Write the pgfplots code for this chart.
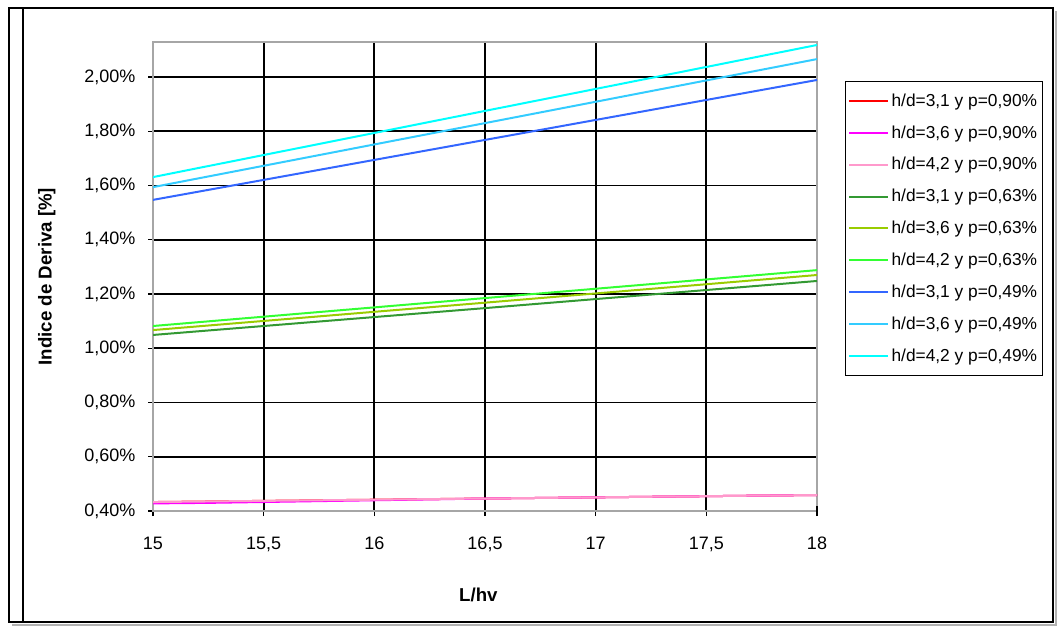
\documentclass[border=0pt]{standalone}
\usepackage{pgfplots}
\pgfplotsset{compat=1.18}
\usepackage{fontspec}
\setmainfont{Liberation Sans}
\definecolor{cRed}{HTML}{FF0000}
\definecolor{cMag}{HTML}{FF00FF}
\definecolor{cPink}{HTML}{FF99CC}
\definecolor{cDkG}{HTML}{339933}
\definecolor{cYG}{HTML}{99CC00}
\definecolor{cG}{HTML}{33FF33}
\definecolor{cBlue}{HTML}{3366FF}
\definecolor{cLB}{HTML}{33CCFF}
\definecolor{cCy}{HTML}{00FFFF}
\begin{document}
\begin{tikzpicture}[x=0.75pt,y=0.75pt]
\useasboundingbox (0,0) rectangle (1062,636);
% outer frame with shadow
\draw[gray!60,line width=1.5pt] (12,11) -- (1056,11) -- (1056,625);
\draw[black,line width=2.2pt] (9,628) rectangle (1053,14);
\draw[black,line width=0.8pt] (23,628) -- (23,14);
\begin{axis}[
  at={(114.75pt,93.75pt)}, anchor=south west,
  width=498pt, height=351.75pt, scale only axis,
  xmin=15, xmax=18, ymin=0.4, ymax=2.129,
  xtick={15,15.5,16,16.5,17,17.5},
  xticklabels={15,{15,5},16,{16,5},17,{17,5}},
  extra x ticks={18}, extra x tick labels={18},
  extra x tick style={grid=none},
  ytick={0.4,0.6,0.8,1.0,1.2,1.4,1.6,1.8,2.0},
  yticklabels={{0,40\%},{0,60\%},{0,80\%},{1,00\%},{1,20\%},{1,40\%},{1,60\%},{1,80\%},{2,00\%}},
  grid=major,
  major grid style={black,line width=1.3pt},
  axis line style={gray!70,line width=1.3pt},
  tick style={black,line width=1.1pt},
  tick align=center, major tick length=7.5pt,
  tick pos=left,
  ticklabel style={font=\fontsize{13.5}{16}\selectfont},
  xticklabel style={yshift=-12pt},
  yticklabel style={xshift=-6pt},
  xlabel={\textbf{L/hv}},
  xlabel style={font=\fontsize{14}{16}\selectfont, at={(axis description cs:0.49,-0.178)}, anchor=center},
  ylabel={\textbf{Indice de Deriva [\%]}},
  ylabel style={font=\fontsize{14}{16}\selectfont, at={(axis description cs:-0.16,0.5)}, anchor=center},
  legend cell align=left,
  legend style={at={(axis description cs:1.042,0.917)}, anchor=north west,
    draw=black, line width=1pt, font=\fontsize{13}{15}\selectfont,
    row sep=9pt, inner xsep=2pt, inner ysep=7pt},
  legend image code/.code={\draw[#1,line width=1.5pt] (0pt,0pt) -- (29pt,0pt);},
  every axis plot/.append style={line width=1.5pt},
]
\addplot[cRed] coordinates {(15,0.433) (16.5,0.446) (18,0.459)};
\addlegendentry{h/d=3,1 y p=0,90\%}
\addplot[cMag] coordinates {(15,0.428) (15.25,0.430) (16.5,0.446) (18,0.459)};
\addlegendentry{h/d=3,6 y p=0,90\%}
\addplot[cPink] coordinates {(15,0.433) (16.5,0.446) (18,0.459)};
\addlegendentry{h/d=4,2 y p=0,90\%}
\addplot[cDkG] coordinates {(15,1.049) (16.5,1.148) (18,1.248)};
\addlegendentry{h/d=3,1 y p=0,63\%}
\addplot[cYG] coordinates {(15,1.067) (16.5,1.168) (18,1.270)};
\addlegendentry{h/d=3,6 y p=0,63\%}
\addplot[cG] coordinates {(15,1.082) (16.5,1.185) (18,1.288)};
\addlegendentry{h/d=4,2 y p=0,63\%}
\addplot[cBlue] coordinates {(15,1.547) (16.5,1.768) (18,1.989)};
\addlegendentry{h/d=3,1 y p=0,49\%}
\addplot[cLB] coordinates {(15,1.594) (16.5,1.830) (18,2.066)};
\addlegendentry{h/d=3,6 y p=0,49\%}
\addplot[cCy] coordinates {(15,1.631) (16.5,1.875) (18,2.118)};
\addlegendentry{h/d=4,2 y p=0,49\%}
\end{axis}
\end{tikzpicture}
\end{document}
